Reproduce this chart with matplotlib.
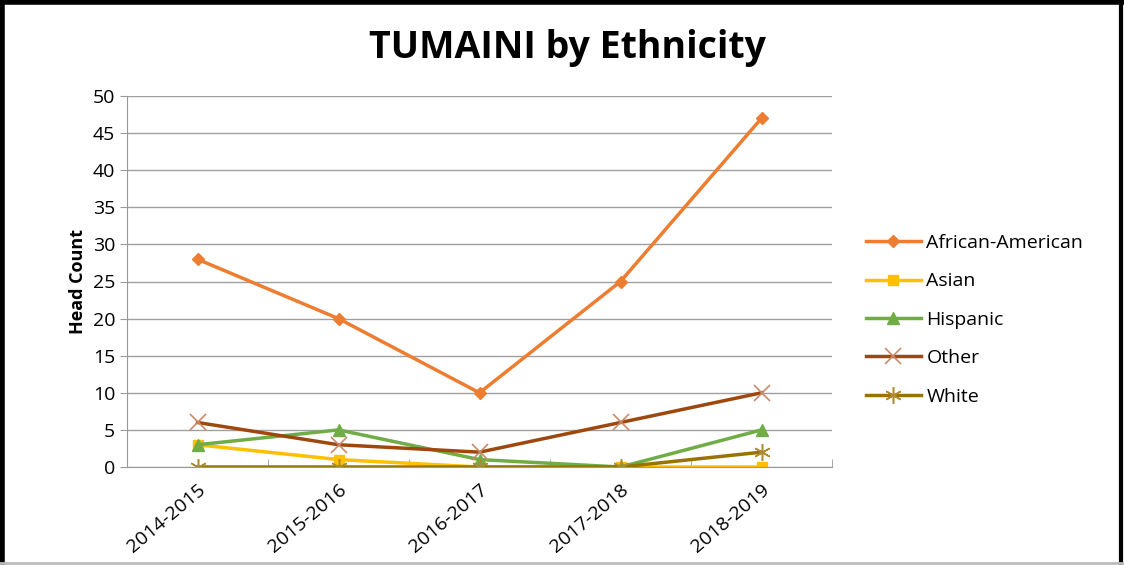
import matplotlib.pyplot as plt
import matplotlib.lines as mlines
import numpy as np

years = ["2014-2015", "2015-2016", "2016-2017", "2017-2018", "2018-2019"]
african_american = [28, 20, 10, 25, 47]
asian = [3, 1, 0, 0, 0]
hispanic = [3, 5, 1, 0, 5]
other = [6, 3, 2, 6, 10]
white = [0, 0, 0, 0, 2]

plt.rcParams['font.family'] = ['Open Sans', 'DejaVu Sans']

fig = plt.figure(figsize=(11.24, 5.65), dpi=100)
ax = fig.add_axes([127/1124, 1 - 467/565, 705/1124, 371/565])

x = np.arange(len(years))
ax.plot(x, african_american, color="#ED7D31", lw=2.5, marker="D", ms=6, label="African-American")
ax.plot(x, asian, color="#FFC000", lw=2.5, marker="s", ms=7, label="Asian")
ax.plot(x, hispanic, color="#70AD47", lw=2.5, marker="^", ms=9, label="Hispanic")
ax.plot(x, other, color="#9E480E", lw=2.5, marker="x", ms=11, mec="#C98B6A", mew=1.2, label="Other")
ax.plot(x, white, color="#997300", lw=2.5, marker=(6, 2, 0), ms=12, mec="#B08A30", mew=1.1, label="White")

ax.set_xlim(-0.5, 4.5)
ax.set_ylim(0, 50)
ax.set_yticks(range(0, 51, 5))
ax.set_xticks(x)
ax.set_xticklabels(years, rotation=40, ha="right", rotation_mode="anchor", fontsize=14)
ax.set_xticks(np.arange(-0.5, 5, 1), minor=True)
ax.tick_params(axis="x", which="major", length=0, pad=10)
ax.tick_params(axis="x", which="minor", length=6, color="#999999", direction="in")
ax.tick_params(axis="y", labelsize=14, length=5, color="#999999", direction="out")
ax.grid(axis="y", color="#A0A0A0", lw=1)
ax.set_axisbelow(True)
for s in ["top", "right"]:
    ax.spines[s].set_visible(False)
ax.spines["left"].set_color("#999999")
ax.spines["bottom"].set_color("#999999")
ax.set_ylabel("Head Count", fontsize=13, fontweight="bold")

fig.text(0.505, 0.915, "TUMAINI by Ethnicity", ha="center", va="center", fontsize=27, fontweight="bold")

fig.legend(loc="center left", bbox_to_anchor=(0.755, 0.434), frameon=False, fontsize=14,
           handlelength=2.8, labelspacing=1.05, handletextpad=0.3)

# outer frame
fig.add_artist(mlines.Line2D([0.002, 0.002], [0, 1], color="black", lw=4, transform=fig.transFigure))
fig.add_artist(mlines.Line2D([0, 1], [0.996, 0.996], color="black", lw=4, transform=fig.transFigure))
fig.add_artist(mlines.Line2D([0.997, 0.997], [0, 1], color="black", lw=3, transform=fig.transFigure))
fig.add_artist(mlines.Line2D([0, 1], [0.004, 0.004], color="#BBBBBB", lw=2, transform=fig.transFigure))

fig.savefig("out.png", dpi=100)
